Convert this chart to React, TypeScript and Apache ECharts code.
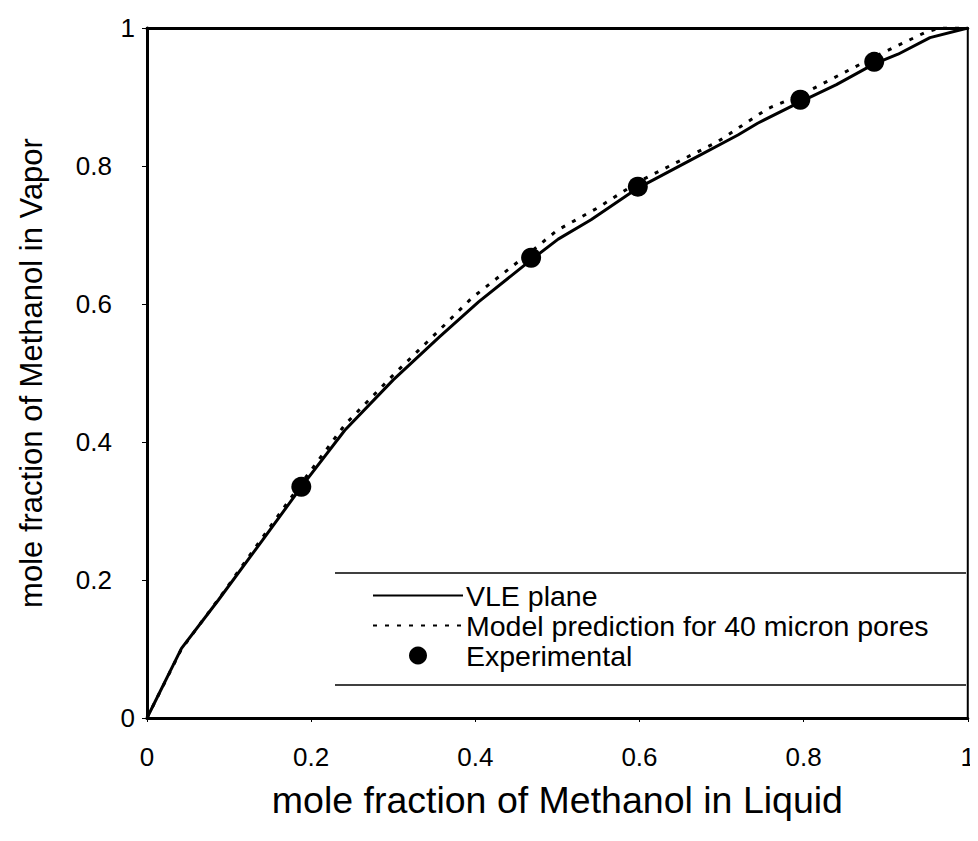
import React, { useEffect, useRef } from "react";
import * as echarts from "echarts";

const vleX = [0, 0.042, 0.087, 0.141, 0.188, 0.241, 0.3, 0.356, 0.404, 0.468, 0.501, 0.541, 0.598, 0.66, 0.72, 0.744, 0.796, 0.84, 0.886, 0.915, 0.954, 1.0];
const vleY = [0, 0.101, 0.171, 0.258, 0.335, 0.417, 0.49, 0.552, 0.603, 0.664, 0.694, 0.722, 0.768, 0.807, 0.845, 0.862, 0.893, 0.918, 0.948, 0.962, 0.986, 1.0];

const modelX = [0, 0.042, 0.087, 0.141, 0.188, 0.241, 0.3, 0.356, 0.396, 0.468, 0.5, 0.55, 0.6, 0.695, 0.756, 0.8, 0.886, 0.947, 0.965, 1.0];
const modelY = [0, 0.1, 0.172, 0.262, 0.34, 0.425, 0.497, 0.562, 0.609, 0.676, 0.707, 0.74, 0.778, 0.835, 0.883, 0.905, 0.958, 0.993, 1.0, 1.0];

const expX = [0.188, 0.468, 0.598, 0.796, 0.886];
const expY = [0.335, 0.667, 0.77, 0.896, 0.951];

const xTicks = [0, 0.2, 0.4, 0.6, 0.8, 1];
const yTicks = [0, 0.2, 0.4, 0.6, 0.8, 1];

const seriesNames = ["VLE plane", "Model prediction for 40 micron pores", "Experimental"];
const xTitle = "mole fraction of Methanol in Liquid";
const yTitle = "mole fraction of Methanol in Vapor";

const FONT = "Liberation Sans, Arial, sans-serif";

const zip = (xs: number[], ys: number[]) => xs.map((x, i) => [x, ys[i]]);
const fmtX = (v: number) => (xTicks.includes(v) ? String(v) : "");
const fmtY = (v: number) => {
  if (!yTicks.includes(v)) return "";
  if (v === 0 || v === 1) return "{end|" + String(v) + "}";
  return "{mid|" + String(v) + "}";
};

export default function App() {
  const ref = useRef<HTMLDivElement>(null);
  useEffect(() => {
    if (!ref.current) return;
    const chart = echarts.init(ref.current, null, { renderer: "svg" });
    chart.setOption({
      animation: false,
      backgroundColor: "#fff",
      grid: { left: 147, right: 6, top: 28, bottom: 123, show: true, borderColor: "#000", borderWidth: 2 },
      legend: {
        orient: "vertical",
        left: 372,
        top: 581,
        padding: 0,
        itemWidth: 90,
        itemHeight: 18,
        itemGap: 1,
        selectedMode: false,
        data: [
          { name: seriesNames[0], itemStyle: { opacity: 0 } },
          { name: seriesNames[1], itemStyle: { opacity: 0 } },
          { name: seriesNames[2], itemStyle: { opacity: 1 } },
        ],
        textStyle: { fontFamily: FONT, fontSize: 28.5, lineHeight: 27, color: "#000", padding: [0, 0, 0, -2] },
      },
      xAxis: [
        {
          type: "value",
          min: 0,
          max: 1,
          interval: 0.2,
          name: xTitle,
          nameLocation: "middle",
          nameGap: 63,
          nameTextStyle: { fontFamily: FONT, fontSize: 37.5, color: "#000" },
          axisLine: { show: true, lineStyle: { color: "#000", width: 3 } },
          axisTick: { show: true, length: 4, lineStyle: { color: "#000", width: 1 } },
          axisLabel: { fontFamily: FONT, fontSize: 26, color: "#000", margin: 26, formatter: fmtX },
          splitLine: { show: false },
        },
        {
          type: "value",
          position: "top",
          min: 0,
          max: 1,
          interval: 0.2,
          axisLine: { show: true, lineStyle: { color: "#000", width: 3 } },
          axisTick: { show: false },
          axisLabel: { show: false },
          splitLine: { show: false },
        },
      ],
      yAxis: {
        type: "value",
        min: 0,
        max: 1,
        interval: 0.2,
        name: yTitle,
        nameLocation: "middle",
        nameGap: 100,
        nameTextStyle: { fontFamily: FONT, fontSize: 31, color: "#000" },
        axisLine: { show: true, lineStyle: { color: "#000", width: 3 } },
        axisTick: { show: true, length: 5, lineStyle: { color: "#000", width: 1 } },
        axisLabel: {
          fontFamily: FONT,
          fontSize: 26,
          color: "#000",
          margin: 12,
          formatter: fmtY,
          rich: {
            end: { fontFamily: FONT, fontSize: 26, color: "#000", padding: [0, 0, 0, 0] },
            mid: { fontFamily: FONT, fontSize: 26, color: "#000", padding: [0, 23, 0, 0] },
          },
        },
        splitLine: { show: false },
      },
      graphic: [
        { type: "line", shape: { x1: 335, y1: 573, x2: 966, y2: 573 }, style: { stroke: "#000", lineWidth: 1.5 } },
        { type: "line", shape: { x1: 335, y1: 685, x2: 966, y2: 685 }, style: { stroke: "#000", lineWidth: 1.5 } },
      ],
      series: [
        {
          name: seriesNames[0],
          type: "line",
          data: zip(vleX, vleY),
          symbol: "none",
          lineStyle: { color: "#000", width: 3 },
          itemStyle: { color: "#000" },
          z: 3,
        },
        {
          name: seriesNames[1],
          type: "line",
          data: zip(modelX, modelY),
          symbol: "none",
          lineStyle: { color: "#000", width: 3, type: [4, 8] },
          itemStyle: { color: "#000" },
          z: 2,
        },
        {
          name: seriesNames[2],
          type: "scatter",
          data: zip(expX, expY),
          symbol: "circle",
          symbolSize: 20,
          itemStyle: { color: "#000", opacity: 1 },
          z: 4,
        },
      ],
    });
    return () => chart.dispose();
  }, []);
  return <div ref={ref} style={{ width: 978, height: 841, margin: -8 }} />;
}
